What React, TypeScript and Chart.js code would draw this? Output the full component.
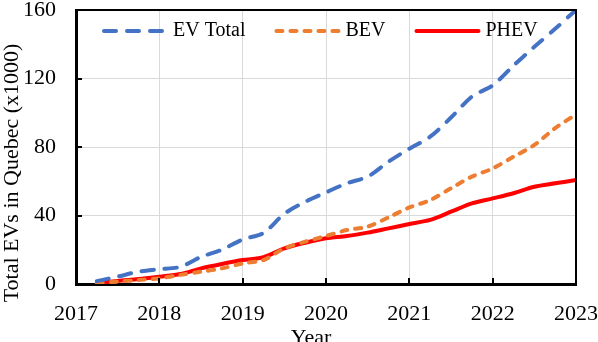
import React, { useEffect, useRef } from "react";
import { Chart, registerables } from "chart.js";

Chart.register(...registerables);

const FONT = '"Liberation Serif", "Times New Roman", serif';

const quarters = [
  2017.25, 2017.5, 2017.75, 2018, 2018.25, 2018.5, 2018.75, 2019,
  2019.25, 2019.5, 2019.75, 2020, 2020.25, 2020.5, 2020.75, 2021,
  2021.25, 2021.5, 2021.75, 2022, 2022.25, 2022.5, 2022.75, 2023,
];
const evTotal = [
  1.7, 4.3, 7.2, 8.6, 10, 15.8, 20, 26,
  29.8, 41, 48, 53.5, 58.8, 62.7, 71.4, 79,
  86, 97.2, 109.4, 116, 127.5, 138.5, 149, 160,
];
const bev = [
  0.5, 1.4, 2.3, 3.3, 5.3, 7.2, 9.1, 12,
  14, 20.8, 24.7, 28, 31.5, 33.5, 38.9, 44.7,
  49, 55.9, 62.7, 67.5, 74.3, 81.2, 91, 99,
];
const phev = [
  0.5, 1.8, 2.9, 4.3, 5.8, 9.1, 11.7, 14,
  15.6, 20.8, 24.1, 26.7, 28, 30, 32.5, 35,
  37.4, 42.2, 47.1, 50, 53, 56.8, 58.8, 60.7,
];
const seriesNames = ["EV Total", "BEV", "PHEV"];
const xTickValues = [2017, 2018, 2019, 2020, 2021, 2022, 2023];
const yTickValues = [0, 40, 80, 120, 160];
const xTitle = "Year";
const yTitle = "Total EVs in Quebec (x1000)";

const toPoints = (vals: number[]) => vals.map((v, i) => ({ x: quarters[i], y: v }));

const decorPlugin = {
  id: "decor",
  afterDraw(chart: any) {
    const { ctx, chartArea: a, scales } = chart;
    ctx.save();
    // inner tick marks
    ctx.strokeStyle = "#000";
    ctx.lineWidth = 2;
    ctx.beginPath();
    xTickValues.forEach((v) => {
      const px = Math.round(scales.x.getPixelForValue(v));
      ctx.moveTo(px, a.bottom);
      ctx.lineTo(px, a.bottom - 6);
    });
    yTickValues.forEach((v) => {
      const py = Math.round(scales.y.getPixelForValue(v));
      ctx.moveTo(a.left, py);
      ctx.lineTo(a.left + 6, py);
    });
    ctx.stroke();
    // top and right frame
    ctx.lineWidth = 2;
    ctx.beginPath();
    ctx.moveTo(a.left, a.top);
    ctx.lineTo(a.right, a.top);
    ctx.lineTo(a.right, a.bottom);
    ctx.stroke();

    // axis titles
    ctx.fillStyle = "#000";
    ctx.font = `22px ${FONT}`;
    ctx.textAlign = "center";
    ctx.textBaseline = "middle";
    ctx.fillText(xTitle, (a.left + a.right) / 2 - 15, 338);
    ctx.save();
    ctx.translate(12, 173);
    ctx.rotate(-Math.PI / 2);
    ctx.fillText(yTitle, 0, 0);
    ctx.restore();

    // legend inside the plot
    ctx.font = `20px ${FONT}`;
    ctx.textAlign = "left";
    ctx.textBaseline = "middle";
    let x = 102;
    const y = 31;
    chart.data.datasets.forEach((ds: any) => {
      ctx.save();
      ctx.strokeStyle = ds.borderColor;
      ctx.lineWidth = ds.borderWidth;
      ctx.lineCap = ds.borderCapStyle || "butt";
      ctx.setLineDash(ds.borderDash || []);
      ctx.beginPath();
      ctx.moveTo(x + 2, y);
      ctx.lineTo(x + 64, y);
      ctx.stroke();
      ctx.restore();
      ctx.fillText(ds.label, x + 71, y);
      x += 71 + ctx.measureText(ds.label).width + 29;
    });
    ctx.restore();
  },
};

export default function App() {
  const ref = useRef<HTMLCanvasElement | null>(null);
  useEffect(() => {
    if (!ref.current) return;
    const common = {
      borderWidth: 4,
      borderCapStyle: "round",
      borderJoinStyle: "round",
      pointRadius: 0,
      tension: 0.3,
      fill: false,
    };
    const chart = new Chart(ref.current, {
      type: "line",
      data: {
        datasets: [
          {
            ...common,
            label: seriesNames[0],
            data: toPoints(evTotal),
            borderColor: "#4472C4",
            borderDash: [12, 11],
          },
          {
            ...common,
            label: seriesNames[1],
            data: toPoints(bev),
            borderColor: "#ED7D31",
            borderDash: [6, 8],
          },
          {
            ...common,
            label: seriesNames[2],
            data: toPoints(phev),
            borderColor: "#FF0000",
          },
        ],
      } as any,
      options: {
        responsive: false,
        animation: false,
        layout: { padding: { top: 10, right: 22, left: 0, bottom: 0 } },
        plugins: { legend: { display: false }, tooltip: { enabled: false } },
        scales: {
          x: {
            type: "linear",
            min: 2017,
            max: 2023,
            afterBuildTicks: (s: any) => {
              s.ticks = xTickValues.map((v) => ({ value: v }));
            },
            afterFit: (s: any) => {
              s.height = 58;
              s.paddingLeft = 0;
              s.paddingRight = 0;
            },
            ticks: {
              color: "#000",
              font: { family: FONT, size: 22 },
              padding: 17,
              maxRotation: 0,
              callback: (v: any) => String(v),
            },
            grid: { color: "#d9d9d9", lineWidth: 1, drawTicks: false },
            border: { color: "#000", width: 3 },
          },
          y: {
            min: 0,
            max: 160,
            afterBuildTicks: (s: any) => {
              s.ticks = yTickValues.map((v) => ({ value: v }));
            },
            afterFit: (s: any) => {
              s.width = 76;
              s.paddingTop = 0;
              s.paddingBottom = 0;
            },
            ticks: {
              color: "#000",
              font: { family: FONT, size: 22 },
              padding: 20,
              callback: (v: any) => String(v),
            },
            grid: { color: "#d9d9d9", lineWidth: 1, drawTicks: false },
            border: { color: "#000", width: 3 },
          },
        },
      } as any,
      plugins: [decorPlugin],
    });
    return () => chart.destroy();
  }, []);
  return (
    <div style={{ position: "fixed", left: 0, top: 0, width: 598, height: 342, background: "#fff" }}>
      <canvas ref={ref} width={598} height={342} style={{ display: "block" }} />
    </div>
  );
}
